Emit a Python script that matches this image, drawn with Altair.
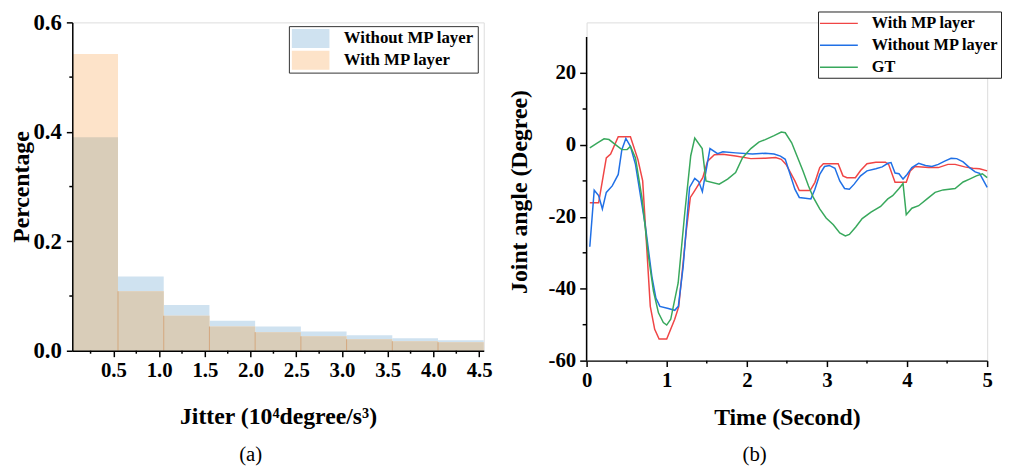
import altair as alt
import pandas as pd

FONT = "Liberation Serif"

# ---------------- (a) histogram data ----------------
bin_start = [0.05, 0.55, 1.05, 1.55, 2.05, 2.55, 3.05, 3.55, 4.05]
bin_end = [0.55, 1.05, 1.55, 2.05, 2.55, 3.05, 3.55, 4.05, 4.55]
without_mp = [0.390, 0.1355, 0.0836, 0.0549, 0.0442, 0.0352, 0.0281, 0.0227, 0.0191]
with_mp = [0.542, 0.1087, 0.0639, 0.0442, 0.0340, 0.0263, 0.0209, 0.0173, 0.0155]
hist_series = ["Without MP layer", "With MP layer"]
hist_colors = ["#cfe2f0", "#fde3c9"]
overlap_color = "#d9cdb9"
x_ticks_a = [0.5, 1.0, 1.5, 2.0, 2.5, 3.0, 3.5, 4.0, 4.5]
x_minor_a = [0.25, 0.75, 1.25, 1.75, 2.25, 2.75, 3.25, 3.75, 4.25]
y_ticks_a = [0.0, 0.2, 0.4, 0.6]
y_minor_a = [0.1, 0.3, 0.5]

# ---------------- (b) joint angle data ----------------
red_t = [0.04, 0.15, 0.246, 0.30, 0.395, 0.547, 0.64, 0.70, 0.795, 0.85, 0.905, 1.0, 1.10, 1.15,
         1.245, 1.295, 1.35, 1.45, 1.51, 1.595, 1.70, 1.86, 2.05, 2.23, 2.36, 2.43, 2.49, 2.60,
         2.655, 2.79, 2.85, 2.91, 2.955, 3.14, 3.20, 3.25, 3.355, 3.42, 3.50, 3.61, 3.73, 3.77,
         3.85, 3.99, 4.04, 4.10, 4.27, 4.39, 4.51, 4.60, 4.72, 4.82, 4.905, 5.0]
red_v = [-16.1, -16.1, -3.6, -2.5, 2.3, 2.3, -4.0, -10.0, -44.9, -51.3, -54.0, -54.0, -48.5, -45.0,
         -23.8, -14.6, -12.7, -9.1, -4.5, -2.7, -2.6, -3.1, -3.8, -3.7, -3.5, -4.0, -5.4, -10.0,
         -12.7, -12.7, -10.4, -6.3, -5.2, -5.2, -8.6, -9.1, -9.1, -7.1, -5.2, -4.8, -4.8, -5.4,
         -10.4, -10.4, -7.2, -6.0, -6.3, -6.3, -5.4, -5.4, -6.1, -6.5, -6.6, -7.2]

blue_t = [0.04, 0.095, 0.15, 0.197, 0.246, 0.32, 0.395, 0.44, 0.49, 0.547, 0.61, 0.735, 0.815,
          0.865, 0.915, 1.02, 1.10, 1.145, 1.205, 1.285, 1.35, 1.40, 1.445, 1.54, 1.635, 1.70,
          1.86, 2.07, 2.23, 2.34, 2.42, 2.48, 2.60, 2.655, 2.73, 2.80, 2.85, 2.91, 2.97, 3.03,
          3.10, 3.16, 3.22, 3.28, 3.34, 3.42, 3.50, 3.61, 3.69, 3.76, 3.80, 3.85, 3.90, 3.95,
          4.0, 4.06, 4.145, 4.23, 4.31, 4.39, 4.47, 4.55, 4.62, 4.70, 4.78, 4.85, 4.905, 5.0]
blue_v = [-28.3, -12.6, -14.1, -17.8, -13.2, -11.4, -8.2, -1.3, 1.8, -0.4, -5.4, -22.8, -36.6,
          -42.6, -44.9, -45.5, -46.0, -44.9, -33.9, -11.8, -9.3, -10.2, -13.0, -1.0, -2.4, -1.9,
          -2.2, -2.5, -2.3, -2.5, -3.1, -4.0, -12.3, -14.6, -14.8, -15.0, -12.3, -8.2, -6.0, -5.7,
          -6.5, -10.0, -12.1, -12.3, -10.9, -8.6, -7.2, -6.6, -6.1, -5.1, -4.9, -7.8, -8.0, -9.5,
          -8.2, -6.3, -5.1, -5.7, -6.0, -5.4, -4.5, -3.7, -3.8, -4.7, -6.3, -7.5, -7.9, -11.8]

green_t = [0.04, 0.136, 0.218, 0.28, 0.36, 0.44, 0.506, 0.547, 0.61, 0.69, 0.773, 0.835, 0.897,
           0.958, 1.0, 1.05, 1.143, 1.225, 1.30, 1.35, 1.443, 1.49, 1.655, 1.76, 1.86, 1.945,
           2.05, 2.15, 2.23, 2.34, 2.43, 2.48, 2.56, 2.62, 2.70, 2.77, 2.83, 2.91, 2.99, 3.08,
           3.16, 3.23, 3.28, 3.36, 3.44, 3.55, 3.67, 3.76, 3.82, 3.90, 3.95, 3.99, 4.06, 4.145,
           4.25, 4.35, 4.45, 4.60, 4.70, 4.78, 4.865, 4.94, 5.0]
green_v = [-0.8, 0.6, 1.7, 1.5, 0.1, -1.3, -1.3, -0.4, -3.6, -14.6, -31.1, -40.7, -46.7,
           -49.4, -50.1, -48.5, -38.4, -19.0, -3.0, 1.9, -1.0, -10.0, -10.9, -9.5, -7.7, -3.6,
           -1.0, 0.8, 1.5, 2.6, 3.6, 3.4, 0.6, -2.7, -7.2, -11.4, -14.6, -17.8, -20.3, -22.2,
           -24.5, -25.3, -24.9, -22.8, -20.5, -18.7, -17.1, -15.0, -14.1, -12.1, -10.7, -19.4, -17.6, -16.9,
           -15.0, -13.2, -12.5, -12.1, -10.3, -9.5, -8.6, -8.0, -9.1]

line_series = ["With MP layer", "Without MP layer", "GT"]
line_colors = ["#f04545", "#2070e6", "#38a85c"]
x_ticks_b = [0, 1, 2, 3, 4, 5]
x_minor_b = [0.5, 1.5, 2.5, 3.5, 4.5]
y_ticks_b = [-60, -40, -20, 0, 20]
y_minor_b = [-50, -30, -10, 10]
y_axis_b = [-60, 30]

# ---------------- tables ----------------
hist_df = pd.DataFrame({
    "start": bin_start * 2,
    "end": bin_end * 2,
    "value": without_mp + with_mp,
    "series": [hist_series[0]] * len(bin_start) + [hist_series[1]] * len(bin_start),
})
overlap_df = pd.DataFrame({
    "start": bin_start,
    "end": bin_end,
    "value": [min(a, b) for a, b in zip(without_mp, with_mp)],
})
edge_df = overlap_df.iloc[1:]

line_df = pd.concat([
    pd.DataFrame({"t": red_t, "v": red_v, "series": line_series[0]}),
    pd.DataFrame({"t": blue_t, "v": blue_v, "series": line_series[1]}),
    pd.DataFrame({"t": green_t, "v": green_v, "series": line_series[2]}),
])


def axis(**kw):
    base = dict(labelFont=FONT, labelFontWeight="bold", labelColor="black",
                titleFont=FONT, titleFontWeight="bold", titleColor="black",
                domainColor="black", tickColor="black", domainWidth=1.5, tickWidth=1.5,
                grid=False, zindex=1, labelFlush=False, labelOverlap=False)
    base.update(kw)
    return alt.Axis(**base)


# ---------------- chart (a) ----------------
WA, HA = 416, 332
xs_a = alt.Scale(domain=[0.05, 4.55], nice=False, zero=False)
ys_a = alt.Scale(domain=[0, 0.6], nice=False)

bars = alt.Chart(hist_df).mark_rect(opacity=1).encode(
    x=alt.X("start:Q", scale=xs_a,
            axis=axis(values=x_ticks_a, format=".1f", labelFontSize=21, tickSize=6,
                      labelPadding=3, title="Jitter (10⁴degree/s³)", titleFontSize=24,
                      titlePadding=24.5)),
    x2="end:Q",
    y=alt.Y("value:Q", scale=ys_a,
            axis=axis(values=y_ticks_a, format=".1f", labelFontSize=23, tickSize=6,
                      labelPadding=5, title="Percentage", titleFontSize=24, titlePadding=0)),
    y2=alt.Y2(datum=0),
    color=alt.Color("series:N",
                    scale=alt.Scale(domain=hist_series, range=hist_colors),
                    legend=alt.Legend(orient="none", legendX=219, legendY=3.8, title=None,
                                      symbolType="M-2,-1H2V1H-2Z", symbolSize=361,
                                      symbolOffset=9.5, symbolOpacity=1, symbolStrokeWidth=0,
                                      labelFont=FONT, labelFontWeight="bold", labelFontSize=17,
                                      labelColor="black", strokeColor="#333", fillColor="white",
                                      padding=3, rowPadding=3, labelOffset=24)),
)
overlap = alt.Chart(overlap_df).mark_rect(color=overlap_color, opacity=1).encode(
    x=alt.X("start:Q", scale=xs_a), x2="end:Q",
    y=alt.Y("value:Q", scale=ys_a), y2=alt.Y2(datum=0))
edges = alt.Chart(edge_df).mark_rule(color="#d2a77e", strokeWidth=1).encode(
    x=alt.X("start:Q", scale=xs_a), y=alt.Y("value:Q", scale=ys_a), y2=alt.Y2(datum=0))
minor_xa = alt.Chart(pd.DataFrame({"m": x_minor_a})).mark_rule(color="black", strokeWidth=1.5).encode(
    x=alt.X("m:Q", scale=xs_a), y=alt.value(HA), y2=alt.value(HA + 3))
minor_ya = alt.Chart(pd.DataFrame({"m": y_minor_a})).mark_rule(color="black", strokeWidth=1.5).encode(
    y=alt.Y("m:Q", scale=ys_a), x=alt.value(0), x2=alt.value(-3))

chart_a = alt.layer(bars, overlap, edges, minor_xa, minor_ya).properties(
    width=WA, height=HA,
    title=alt.TitleParams("(a)", orient="bottom", font=FONT, fontSize=21, fontWeight="normal",
                          color="black", offset=16, anchor="middle", frame="bounds"))

# ---------------- chart (b) ----------------
WB, HB = 405, 342
xs_b = alt.Scale(domain=[0, 5], nice=False, zero=False)
ys_b = alt.Scale(domain=[-60, 34.1], nice=False, zero=False)

lines = alt.Chart(line_df).mark_line(strokeWidth=1.5).encode(
    x=alt.X("t:Q", scale=xs_b,
            axis=axis(values=x_ticks_b, format="d", labelFontSize=21, tickSize=6,
                      labelPadding=3, title="Time (Second)", titleFontSize=24, titlePadding=15.5)),
    y=alt.Y("v:Q", scale=ys_b,
            axis=axis(values=y_ticks_b, labelExpr="'' + datum.value", labelFontSize=21,
                      tickSize=7, labelPadding=4, title="Joint angle (Degree)",
                      titleFontSize=24, titlePadding=16.8, domain=False)),
    color=alt.Color("series:N",
                    scale=alt.Scale(domain=line_series, range=line_colors),
                    legend=alt.Legend(orient="none", legendX=234, legendY=-11, title=None,
                                      symbolType="M-2.15,0H2.15", symbolSize=316.8,
                                      symbolOffset=9.1, symbolStrokeWidth=1.5,
                                      labelFont=FONT, labelFontWeight="bold", labelFontSize=16.5,
                                      labelColor="black", strokeColor="#222", fillColor="white",
                                      padding=2, rowPadding=3.2, labelOffset=23.3)),
    detail="series:N",
)
y_line_b = alt.Chart(pd.DataFrame({"lo": [y_axis_b[0]], "hi": [y_axis_b[1]]})).mark_rule(
    color="black", strokeWidth=1.5).encode(
    x=alt.value(0), y=alt.Y("lo:Q", scale=ys_b), y2="hi:Q")
minor_xb = alt.Chart(pd.DataFrame({"m": x_minor_b})).mark_rule(color="black", strokeWidth=1.5).encode(
    x=alt.X("m:Q", scale=xs_b), y=alt.value(HB), y2=alt.value(HB + 3))
minor_yb = alt.Chart(pd.DataFrame({"m": y_minor_b})).mark_rule(color="black", strokeWidth=1.5).encode(
    y=alt.Y("m:Q", scale=ys_b), x=alt.value(0), x2=alt.value(-4))

chart_b = alt.layer(lines, y_line_b, minor_xb, minor_yb).properties(
    width=WB, height=HB,
    title=alt.TitleParams("(b)", orient="bottom", font=FONT, fontSize=21, fontWeight="normal",
                          color="black", offset=14.5, anchor="middle", frame="bounds"))

chart = alt.hconcat(chart_a, chart_b, spacing=13).resolve_scale(color="independent").properties(
    padding={"left": 0, "top": 0, "right": 0, "bottom": -1}
).configure_view(stroke=None).configure(background="white")

chart.save("out.html", embed_options={"renderer": "svg", "actions": False})
